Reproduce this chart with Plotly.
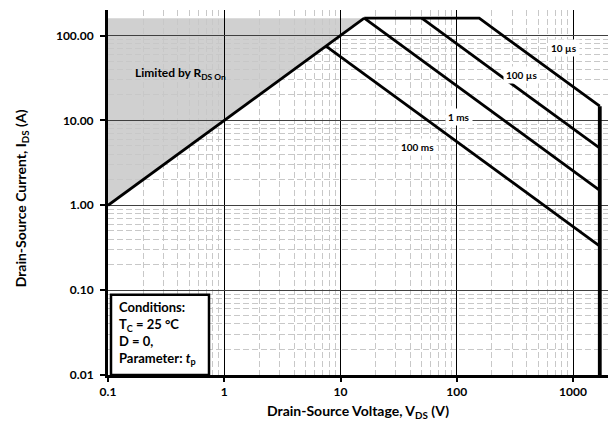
import numpy as np
import plotly.graph_objects as go

# --- Safe operating area data (V_DS in volts, I_DS in amps) ---
rdson_v = [0.1, 16]
rdson_i = [1, 160]

soa_10us_v = [16, 156, 1700]
soa_10us_i = [160, 160, 14.7]

soa_100us_v = [50, 1700]
soa_100us_i = [160, 4.7]

soa_1ms_v = [16, 1700]
soa_1ms_i = [160, 1.5]

soa_100ms_v = [7.5, 1700]
soa_100ms_i = [75, 0.33]

vmax_v = [1700, 1700]
vmax_i = [0.01, 14.7]

curve_labels = ["10 µs", "100 µs", "1 ms", "100 ms"]
label_v = [832, 362, 105, 45.6]
label_i = [71.6, 34.5, 11.0, 4.8]

x_tickvals = [0.1, 1, 10, 100, 1000]
x_ticktext = ["0.1", "1", "10", "100", "1000"]
y_tickvals = [0.01, 0.1, 1, 10, 100]
y_ticktext = ["0.01", "0.10", "1.00", "10.00", "100.00"]

FONT = "Lato"
LINE_W = 2.8
MINOR_DASH = "6px,3px"

x_minor = [m * 10.0 ** e for e in range(-1, 4) for m in range(2, 10) if m * 10.0 ** e <= 2000]
y_minor = [m * 10.0 ** e for e in range(-2, 3) for m in range(2, 10) if m * 10.0 ** e <= 200]

fig = go.Figure()

black_line = dict(color="black", width=LINE_W)
fig.add_trace(go.Scatter(x=rdson_v, y=rdson_i, mode="lines", line=black_line))
fig.add_trace(go.Scatter(x=soa_10us_v, y=soa_10us_i, mode="lines", line=black_line))
fig.add_trace(go.Scatter(x=soa_100us_v, y=soa_100us_i, mode="lines", line=black_line))
fig.add_trace(go.Scatter(x=soa_1ms_v, y=soa_1ms_i, mode="lines", line=black_line))
fig.add_trace(go.Scatter(x=soa_100ms_v, y=soa_100ms_i, mode="lines", line=black_line))
fig.add_trace(go.Scatter(x=vmax_v, y=vmax_i, mode="lines", line=dict(color="black", width=3.8)))

# R_DS(on)-limited region, shaded beneath the grid
ymax = rdson_i[-1]
region_path = (
    f"M {rdson_v[0]},{rdson_i[0]} L {rdson_v[1]},{rdson_i[1]} "
    f"L {rdson_v[0]},{ymax} Z"
)
fig.add_shape(type="path", path=region_path, xref="x", yref="y",
              fillcolor="#d0d0d0", line=dict(width=0), layer="below")

# Conditions box
fig.add_shape(type="rect", xref="paper", yref="paper",
              x0=0.006, x1=0.202, y0=0.0, y1=0.22,
              line=dict(color="black", width=2.5), fillcolor="white", layer="above")

annotations = []
for text, v, i in zip(curve_labels, label_v, label_i):
    annotations.append(dict(
        x=np.log10(v), y=np.log10(i), xref="x", yref="y", text=text,
        showarrow=False, bgcolor="white", borderpad=2,
        font=dict(family=FONT, size=10, color="black", weight=700)))

annotations.append(dict(
    x=np.log10(0.42), y=np.log10(35.4), xref="x", yref="y",
    text="Limited by R<sub>DS On</sub>", showarrow=False,
    font=dict(family=FONT, size=12, color="black", weight=700)))

annotations.append(dict(
    x=0.018, y=0.114, xref="paper", yref="paper", xanchor="left", yanchor="middle",
    align="left", showarrow=False,
    text="Conditions:<br>T<sub>C</sub> = 25 °C<br>D = 0,<br>Parameter: <i>t</i><sub>p</sub>",
    font=dict(family=FONT, size=13, color="black", weight=700)))

annotations.append(dict(
    x=-0.174, y=0.484, xref="paper", yref="paper", xanchor="center", yanchor="middle",
    textangle=-90, showarrow=False,
    text="Drain-Source Current, I<sub>DS</sub> (A)",
    font=dict(family=FONT, size=14, color="black", weight=700)))

fig.update_layout(
    width=610, height=426,
    margin=dict(l=108, r=2, t=10, b=51),
    paper_bgcolor="white", plot_bgcolor="white",
    showlegend=False,
    annotations=annotations,
    xaxis=dict(
        type="log", range=[-1, np.log10(2000)],
        tickvals=x_tickvals, ticktext=x_ticktext,
        tickfont=dict(family=FONT, size=12, color="black", weight=700),
        ticks="outside", ticklen=4, tickwidth=2, tickcolor="black",
        showline=True, linecolor="black", linewidth=3,
        showgrid=True, gridcolor="black", gridwidth=1,
        zeroline=False,
        minor=dict(tickvals=x_minor, showgrid=True, gridcolor="#c8c8c8",
                   griddash=MINOR_DASH, gridwidth=1, ticks=""),
        title=dict(text="Drain-Source Voltage, V<sub>DS</sub> (V)", standoff=8,
                   font=dict(family=FONT, size=14, color="black", weight=700)),
    ),
    yaxis=dict(
        type="log", range=[-2, np.log10(200)],
        tickvals=y_tickvals, ticktext=y_ticktext,
        tickfont=dict(family=FONT, size=12, color="black", weight=700),
        ticks="outside", ticklen=5, tickwidth=2, tickcolor="black",
        ticklabelstandoff=4,
        showline=True, linecolor="black", linewidth=3,
        showgrid=True, gridcolor="#404040", gridwidth=1,
        zeroline=False,
        minor=dict(tickvals=y_minor, showgrid=True, gridcolor="#c8c8c8",
                   griddash=MINOR_DASH, gridwidth=1, ticks=""),
    ),
)

fig.write_html("out.html")
